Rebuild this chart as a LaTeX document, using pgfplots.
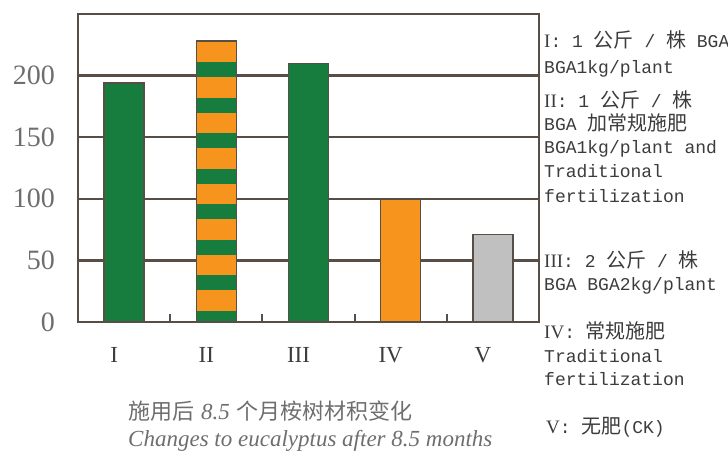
\documentclass[border=0pt]{standalone}
\usepackage{fontspec}
\usepackage{pgfplots}
\pgfplotsset{compat=1.18}
\usetikzlibrary{patterns.meta}
\setmainfont{Liberation Serif}
\newfontfamily\cjk{Noto Sans CJK SC}
\newfontfamily\mono{Liberation Mono}
\definecolor{mygreen}{RGB}{22,125,62}
\definecolor{myorange}{RGB}{247,148,29}
\definecolor{mygray}{RGB}{192,192,192}
\definecolor{edge}{RGB}{88,78,70}
\definecolor{txt}{RGB}{60,60,60}
\definecolor{tickc}{RGB}{110,110,110}
\newcommand\C[1]{{\cjk\fontsize{20}{20}\selectfont #1}}
\newcommand\R[1]{{\rmfamily\fontsize{19}{19}\selectfont #1}}
\begin{document}
\begin{tikzpicture}
\path[use as bounding box] (0pt,0pt) rectangle (728pt,452pt);
\begin{axis}[
  at={(78pt,130pt)}, anchor=south west,
  scale only axis, width=461pt, height=308pt,
  xmin=-0.5, xmax=4.5, ymin=0, ymax=250,
  axis line style={draw=edge, line width=2.5pt},
  xtick={0,1,2,3,4}, xticklabels={I,II,III,IV,V},
  ytick={0,50,100,150,200},
  xtick pos=bottom, ytick pos=left,
  ymajorgrids, grid style={draw=edge, line width=2.5pt},
  major tick length=0pt,
  major tick style={draw=edge, line width=2pt},
  extra x ticks={0.5,1.5,2.5,3.5}, extra x tick labels={},
  extra x tick style={major tick length=8pt, tick align=inside},
  /pgf/number format/assume math mode=true,
  xticklabel style={font=\fontsize{23}{23}\selectfont, text=txt, anchor=north, inner sep=0pt, yshift=-25pt, xshift=-10pt},
  yticklabel style={font=\fontsize{28}{28}\selectfont, text=tickc, anchor=east, inner sep=0pt, xshift=-23pt},
]
\addplot[ybar, bar width=40pt, bar shift=0pt, draw=edge, line width=1.5pt, fill=mygreen] coordinates {(0,194) (2,210)};
\addplot[ybar, bar width=40pt, bar shift=0pt, draw=edge, line width=1.5pt, preaction={fill=myorange}, pattern={Lines[angle=0,distance=35.5pt,line width=15pt,yshift=27pt]}, pattern color=mygreen] coordinates {(1,228)};
\addplot[ybar, bar width=40pt, bar shift=0pt, draw=edge, line width=1.5pt, fill=myorange] coordinates {(3,100)};
\addplot[ybar, bar width=40pt, bar shift=0pt, draw=edge, line width=1.5pt, fill=mygray] coordinates {(4,71)};
\end{axis}
\draw[edge, line width=2.5pt] (539pt,130pt) -- (539pt,438pt);
\begin{scope}[every node/.style={anchor=base west, inner sep=0pt, text=txt, font=\mono\fontsize{18}{18}\selectfont}]
\node at (544pt,404pt) {\R{I}: 1 \C{公斤} / \C{株} BGA};
\node at (544pt,378pt) {BGA1kg/plant};
\node at (544pt,344pt) {\R{II}: 1 \C{公斤} / \C{株}};
\node at (544pt,321pt) {BGA \C{加常规施肥}};
\node at (544pt,298pt) {BGA1kg/plant and};
\node at (544pt,274pt) {Traditional};
\node at (544pt,249pt) {fertilization};
\node at (544pt,184pt) {\R{III}: 2 \C{公斤} / \C{株}};
\node at (544pt,161pt) {BGA BGA2kg/plant};
\node at (544pt,113pt) {\R{IV}: \C{常规施肥}};
\node at (544pt,89pt) {Traditional};
\node at (544pt,66pt) {fertilization};
\node at (546pt,18pt) {\R{V}: \C{无肥}(CK)};
\end{scope}
\node[anchor=base west, inner sep=0pt, text=tickc] at (128pt,32pt) {{\cjk\fontsize{22}{22}\selectfont 施用后}\hspace{7pt}{\itshape\fontsize{23}{23}\selectfont 8.5}\hspace{7pt}{\cjk\fontsize{22}{22}\selectfont 个月桉树材积变化}};
\node[anchor=base west, inner sep=0pt, text=tickc, font=\itshape\fontsize{23}{23}\selectfont] at (128pt,5pt) {Changes to eucalyptus after 8.5 months};
\end{tikzpicture}
\end{document}
